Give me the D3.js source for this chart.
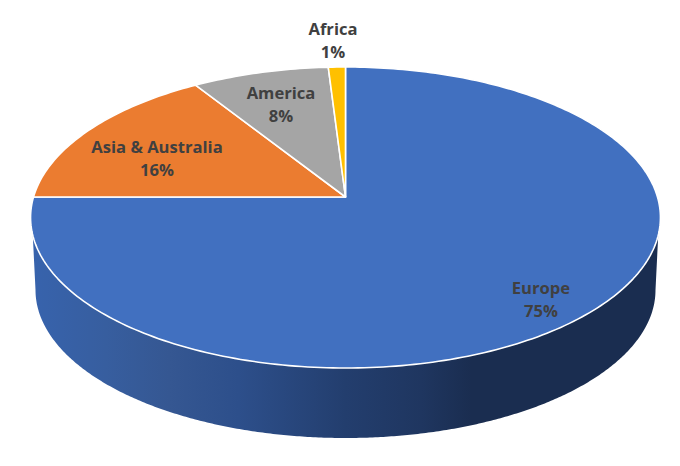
<!DOCTYPE html>
<html>
<head>
<meta charset="utf-8">
<script src="https://cdn.jsdelivr.net/npm/d3@7"></script>
<style>
html,body{margin:0;padding:0;background:#fff;}
svg{display:block;}
text{font-family:"Open Sans",sans-serif;font-weight:700;font-size:16.6px;fill:#404040;text-anchor:middle;}
</style>
</head>
<body>
<svg id="chart" width="680" height="466"></svg>
<script>
const categories = ["Europe", "Asia & Australia", "America", "Africa"];
const shares = [75, 16, 8, 1];
const sliceColors = ["#4170C0", "#EB7C30", "#A5A5A5", "#FFC000"];

// layout
const labelAnchors = [[541, 294], [157, 153], [281, 99], [333, 35]];
const lineStep = 23;
const pivot = {x: 345.5, y: 197};
const K = 312, A = 120.9, C = -0.1362;
const base = {cx: 345.5, cy: 290, rx: 310, ry: 148};
const rimY = 235;

const svg = d3.select("#chart");
const defs = svg.append("defs");
const grad = defs.append("linearGradient").attr("id", "side")
  .attr("gradientUnits", "userSpaceOnUse")
  .attr("x1", 30).attr("x2", 661).attr("y1", 0).attr("y2", 0);
[[0, "#3763AD"], [0.12, "#375E9F"], [0.22, "#355792"], [0.33, "#2D4F8B"], [0.5, "#233E6E"],
 [0.62, "#1F3660"], [0.7, "#1A2D50"], [1, "#1A2D50"]].forEach(s =>
  grad.append("stop").attr("offset", s[0]).attr("stop-color", s[1]));

// perspective projection of the unit disc (angle clockwise from 12 o'clock)
const project = a => {
  const u = Math.sin(a), v = -Math.cos(a), d = 1 + C * v;
  return [pivot.x + K * u / d, (A * v + pivot.y) / d];
};

const line = d3.line().curve(d3.curveLinear);
const pie = d3.pie().sort(null).value(d => d)(shares);

// side wall between the rim and the smaller base ellipse
const angles = d3.range(0, 2 * Math.PI + 1e-6, Math.PI / 360);
const frontRim = angles.map(project).filter(p => p[1] >= rimY);
frontRim.sort((p, q) => p[0] - q[0]);
const basePts = d3.range(0, Math.PI + 1e-6, Math.PI / 360).map(t =>
  [base.cx + base.rx * Math.cos(t), base.cy + base.ry * Math.sin(t)]);
svg.append("path").attr("d", line([...frontRim, ...basePts]) + "Z").attr("fill", "url(#side)");

// slices
svg.append("g").selectAll("path").data(pie).join("path")
  .attr("d", d => {
    const steps = Math.max(4, Math.ceil((d.endAngle - d.startAngle) / (Math.PI / 180)));
    const pts = d3.range(steps + 1).map(i =>
      project(d.startAngle + (d.endAngle - d.startAngle) * i / steps));
    return line([[pivot.x, pivot.y], ...pts]) + "Z";
  })
  .attr("fill", (d, i) => sliceColors[i])
  .attr("stroke", "#fff").attr("stroke-width", 1.6).attr("stroke-linejoin", "round");

// labels
const labels = svg.append("g");
categories.forEach((c, i) => {
  labels.append("text").attr("x", labelAnchors[i][0]).attr("y", labelAnchors[i][1]).text(c);
  labels.append("text").attr("x", labelAnchors[i][0]).attr("y", labelAnchors[i][1] + lineStep)
    .text(shares[i] + "%");
});
</script>
</body>
</html>
